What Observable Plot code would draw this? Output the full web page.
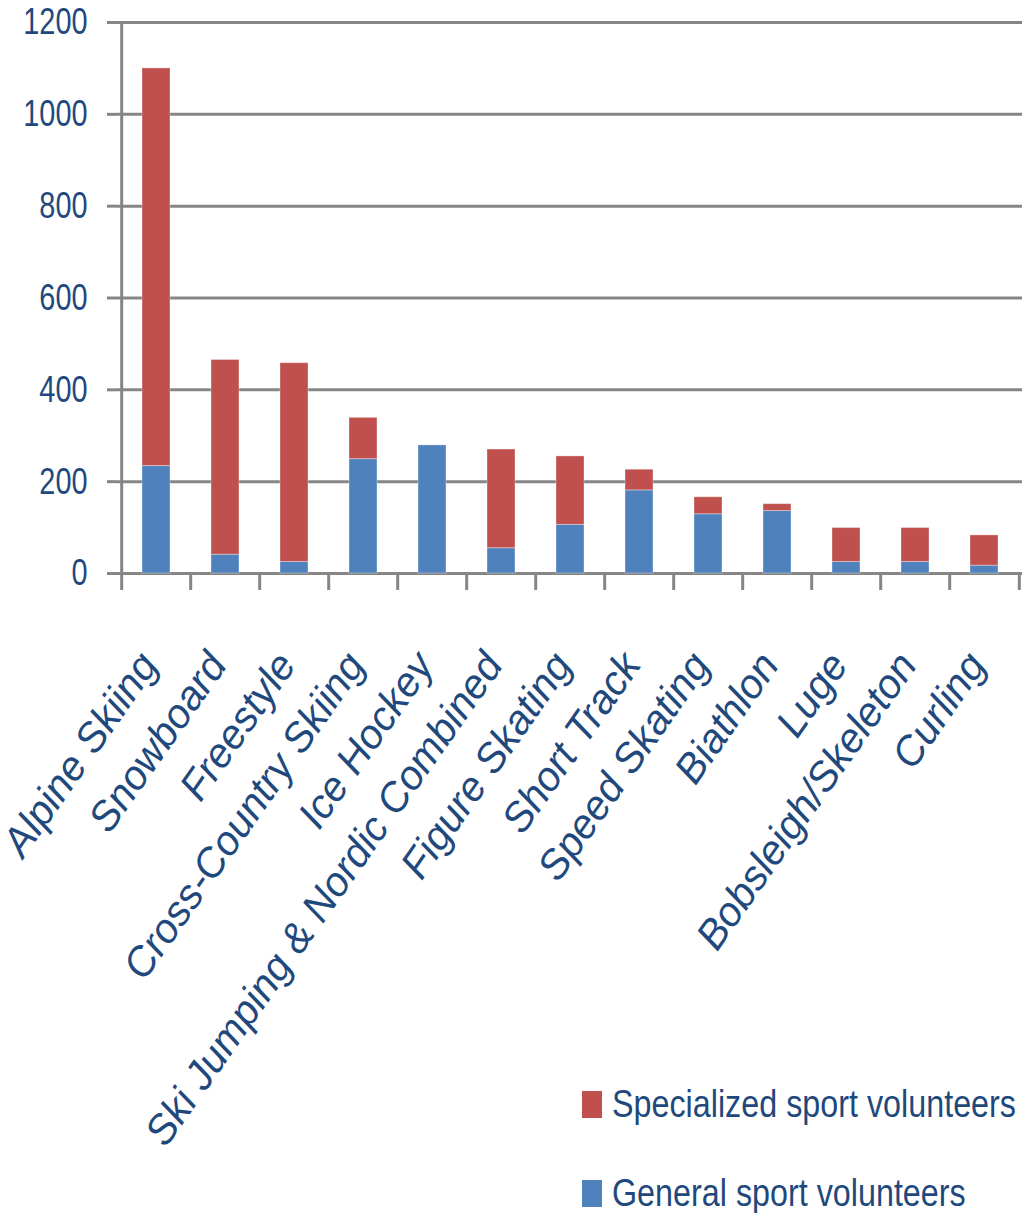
<!DOCTYPE html>
<html>
<head>
<meta charset="utf-8">
<script src="https://cdn.jsdelivr.net/npm/d3@7"></script>
<script src="https://cdn.jsdelivr.net/npm/@observablehq/plot@0.6"></script>
<style>
  html, body { margin: 0; background: #fff; overflow: hidden; }
  #wrap { width: 1028px; position: relative; }
  #legend { position: relative; height: 133px; width: 1028px; font-family: "Liberation Sans", Arial, sans-serif; color: #1F497D; }
  .item { position: absolute; left: 582px; width: 440px; display: flex; align-items: center; font-size: 38px; white-space: nowrap; }
  .sw { flex: none; width: 20px; height: 27px; margin-right: 10px; }
  .tx { display: inline-block; transform: scaleX(0.85); transform-origin: 0 50%; }
</style>
</head>
<body>
<div id="wrap"></div>
<script>
const categories = ["Alpine Skiing","Snowboard","Freestyle","Cross-Country Skiing","Ice Hockey","Ski Jumping & Nordic Combined","Figure Skating","Short Track","Speed Skating","Biathlon","Luge","Bobsleigh/Skeleton","Curling"];
const general = [234, 41, 25, 249, 279, 55, 106, 181, 129, 136, 25, 25, 17];
const specialized = [866, 424, 433, 90, 0, 215, 149, 45, 37, 15, 74, 74, 66];
const seriesNames = ["General sport volunteers", "Specialized sport volunteers"];
const seriesColors = ["#4F81BD", "#C0504D"];
const yTicks = [0, 200, 400, 600, 800, 1000, 1200];

const rows = [];
categories.forEach((c, i) => rows.push({sport: c, series: seriesNames[0], value: general[i]}));
categories.forEach((c, i) => rows.push({sport: c, series: seriesNames[1], value: specialized[i]}));

const W = 1028, H = 1080, mL = 117, mR = 6, mT = 22, mB = 507;
const step = (W - mL - mR) / categories.length;
const gray = "#868686";
const textColor = "#1F497D";

const chart = Plot.plot({
  width: W, height: H,
  marginLeft: mL, marginRight: mR, marginTop: mT, marginBottom: mB,
  style: {overflow: "visible", background: "white"},
  x: {domain: categories, paddingInner: 0.6, paddingOuter: 0.3, label: null},
  y: {domain: [0, 1200], label: null},
  color: {domain: seriesNames, range: seriesColors},
  marks: [
    Plot.ruleY(yTicks, {stroke: gray, strokeWidth: 3}),
    Plot.barY(rows, {x: "sport", y: "value", fill: "series", stroke: "white", strokeOpacity: 0.35, strokeWidth: 1}),
    Plot.ruleX([categories[0]], {dx: -step/2, y1: 0, y2: 1200, stroke: gray, strokeWidth: 3}),
    Plot.axisY({ticks: yTicks, tickSize: 10, tickPadding: 20, stroke: gray, strokeWidth: 3, fill: textColor,
      fontSize: 37, fontFamily: "'Liberation Sans', Arial, sans-serif", tickFormat: d => String(d)}),
    Plot.axisX({tickSize: 17, tickFormat: () => "", dx: -step/2, stroke: gray, strokeWidth: 3}),
    Plot.axisX([categories[categories.length - 1]], {tickSize: 17, tickFormat: () => "", dx: step/2, stroke: gray, strokeWidth: 3}),
    Plot.axisX({tickSize: 0, tickPadding: 84, tickRotate: -55, dx: -8, fill: textColor, fontSize: 41,
      fontStyle: "italic", fontFamily: "'Liberation Sans', Arial, sans-serif"})
  ]
});

// condense the y tick labels horizontally (narrow face look), keeping their right edge
chart.querySelectorAll('g[aria-label="y-axis tick label"] text').forEach(t => {
  const tr = t.getAttribute("transform");
  if (tr && tr.includes("translate")) {
    t.setAttribute("transform", tr + " scale(0.78,1)");
  } else {
    const x = +t.getAttribute("x") || 0, y = +t.getAttribute("y") || 0;
    t.removeAttribute("x");
    t.setAttribute("y", 0);
    t.setAttribute("transform", `translate(${x},${y}) scale(0.78,1)`);
  }
});
document.getElementById("wrap").appendChild(chart);

const legend = document.createElement("div");
legend.id = "legend";
[[seriesNames[1], seriesColors[1], 0], [seriesNames[0], seriesColors[0], 89]].forEach(([name, col, top]) => {
  const it = document.createElement("div");
  it.className = "item";
  it.style.top = (top + 3) + "px";
  const sw = document.createElement("span");
  sw.className = "sw"; sw.style.background = col;
  const tx = document.createElement("span");
  tx.className = "tx";
  tx.textContent = name;
  it.appendChild(sw); it.appendChild(tx);
  legend.appendChild(it);
});
document.getElementById("wrap").appendChild(legend);
</script>
</body>
</html>
